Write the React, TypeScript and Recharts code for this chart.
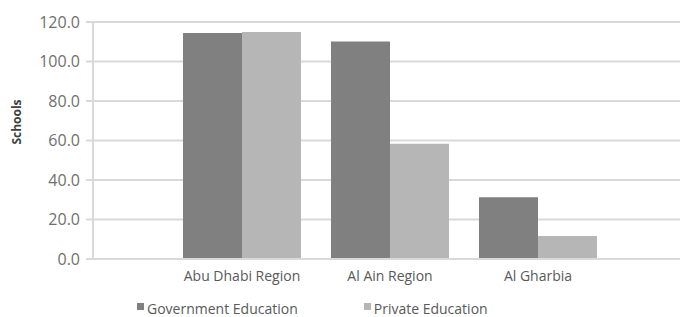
import React from "react";
import { BarChart, Bar, XAxis, YAxis, CartesianGrid, Legend, Label } from "recharts";

const categories = ["Abu Dhabi Region", "Al Ain Region", "Al Gharbia"];
const governmentEducation = [114.4, 110.1, 31.3];
const privateEducation = [115.0, 58.3, 11.7];
const yTicks = [0, 20, 40, 60, 80, 100, 120];
const seriesNames = ["Government Education", "Private Education"];
const seriesColors = ["#808080", "#b5b6b5"];
const yAxisTitle = "Schools";

const data = categories.map((c, i) => ({
  name: c,
  gov: governmentEducation[i],
  priv: privateEducation[i],
}));

const FONT = "'Open Sans', 'Noto Sans', sans-serif";

const LegendContent = () => (
  <div style={{ display: "flex", fontFamily: FONT, fontSize: 14, lineHeight: "14px", color: "#595959", paddingLeft: 137, height: 15 }}>
    {seriesNames.map((n, i) => (
      <div key={n} style={{ display: "flex", alignItems: "center", marginRight: i === 0 ? 66 : 0 }}>
        <span style={{ display: "inline-block", width: 7, height: 7, background: seriesColors[i], marginRight: 3, marginTop: -5 }} />
        <span>{n}</span>
      </div>
    ))}
  </div>
);

const YTitle = () => (
  <text
    transform="translate(21,122) rotate(-90)"
    textAnchor="middle"
    style={{ fill: "#404040", fontSize: 12, fontWeight: 700, fontFamily: FONT }}
  >
    {yAxisTitle}
  </text>
);

export default function App() {
  return (
    <div style={{ position: "absolute", left: 0, top: 0, background: "#fff" }}>
      <BarChart
        width={681}
        height={317}
        data={data}
        margin={{ top: 22, right: 1, bottom: 28, left: 0 }}
        barCategoryGap={15}
        barGap={0}
      >
        <CartesianGrid vertical={false} stroke="#d9d9d9" strokeWidth={2} />
        <XAxis
          dataKey="name"
          padding={{ left: 75, right: 68 }}
          axisLine={{ stroke: "#d9d9d9", strokeWidth: 2 }}
          tickLine={false}
          tickSize={0}
          tickMargin={12}
          height={30}
          tick={{ fill: "#595959", fontSize: 14, fontFamily: FONT }}
        />
        <YAxis
          width={93}
          domain={[0, 120]}
          ticks={yTicks}
          tickFormatter={(v: number) => v.toFixed(1)}
          axisLine={{ stroke: "#d9d9d9", strokeWidth: 2 }}
          tickLine={{ stroke: "#d9d9d9", strokeWidth: 2 }}
          tickSize={7}
          tickMargin={6}
          tick={{ fill: "#6f6f6f", fontSize: 16, fontFamily: FONT }}
        >
          <Label content={<YTitle />} />
        </YAxis>
        <Legend
          layout="horizontal"
          verticalAlign="middle"
          align="center"
          wrapperStyle={{ top: 301, left: 0, width: 681 }}
          content={<LegendContent />}
        />
        <Bar dataKey="gov" name={seriesNames[0]} fill={seriesColors[0]} isAnimationActive={false} />
        <Bar dataKey="priv" name={seriesNames[1]} fill={seriesColors[1]} isAnimationActive={false} />
      </BarChart>
    </div>
  );
}
